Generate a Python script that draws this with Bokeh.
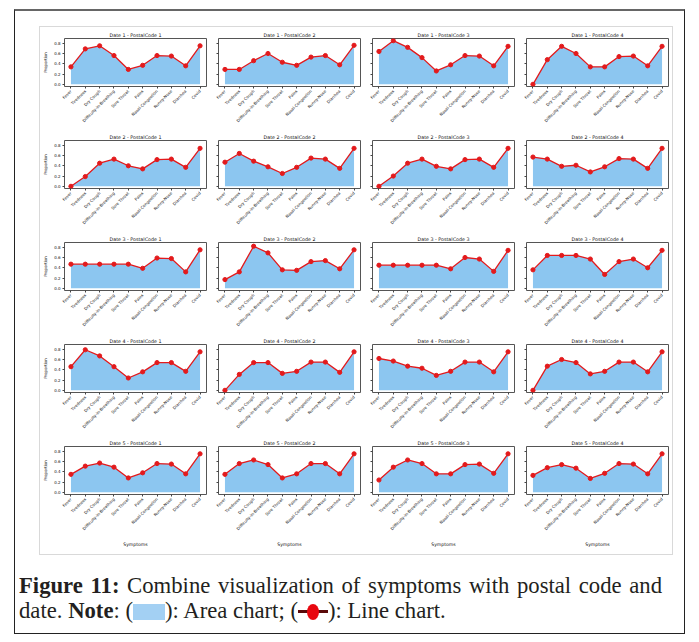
import math
from bokeh.plotting import figure
from bokeh.models import (FixedTicker, CustomJSTickFormatter, PrintfTickFormatter,
                          Div, Range1d, ColumnDataSource)
from bokeh.layouts import column, row
from bokeh.embed import file_html
from bokeh.resources import INLINE

# ---------------- data ----------------
symptoms = ["Fever", "Tiredness", "Dry Cough", "Difficulty-in-Breathing", "Sore Throat",
            "Pains", "Nasal-Congestion", "Runny-Nose", "Diarrhea", "Covid"]
dates = ["Date 1", "Date 2", "Date 3", "Date 4", "Date 5"]
postal_codes = ["PostalCode 1", "PostalCode 2", "PostalCode 3", "PostalCode 4"]
y_ticks = [0.0, 0.2, 0.4, 0.6, 0.8]

d1_pc1 = [0.34, 0.69, 0.75, 0.56, 0.29, 0.37, 0.56, 0.55, 0.36, 0.75]
d1_pc2 = [0.29, 0.29, 0.46, 0.60, 0.43, 0.37, 0.53, 0.56, 0.38, 0.76]
d1_pc3 = [0.64, 0.85, 0.72, 0.52, 0.26, 0.38, 0.56, 0.55, 0.36, 0.74]
d1_pc4 = [0.00, 0.48, 0.74, 0.60, 0.34, 0.34, 0.54, 0.55, 0.36, 0.74]
d2_pc1 = [0.00, 0.19, 0.45, 0.53, 0.40, 0.34, 0.52, 0.53, 0.37, 0.74]
d2_pc2 = [0.47, 0.64, 0.49, 0.38, 0.25, 0.37, 0.55, 0.53, 0.35, 0.74]
d2_pc3 = [0.00, 0.20, 0.45, 0.53, 0.39, 0.34, 0.52, 0.53, 0.37, 0.74]
d2_pc4 = [0.57, 0.53, 0.39, 0.41, 0.28, 0.38, 0.54, 0.53, 0.35, 0.74]
d3_pc1 = [0.47, 0.47, 0.47, 0.47, 0.47, 0.39, 0.59, 0.58, 0.32, 0.75]
d3_pc2 = [0.17, 0.32, 0.82, 0.69, 0.36, 0.35, 0.52, 0.54, 0.38, 0.75]
d3_pc3 = [0.45, 0.45, 0.45, 0.45, 0.45, 0.38, 0.60, 0.57, 0.33, 0.74]
d3_pc4 = [0.36, 0.64, 0.64, 0.64, 0.57, 0.27, 0.52, 0.57, 0.40, 0.74]
d4_pc1 = [0.46, 0.79, 0.67, 0.46, 0.24, 0.36, 0.54, 0.54, 0.37, 0.75]
d4_pc2 = [0.00, 0.31, 0.54, 0.54, 0.33, 0.37, 0.55, 0.55, 0.35, 0.75]
d4_pc3 = [0.62, 0.57, 0.47, 0.43, 0.29, 0.37, 0.55, 0.55, 0.36, 0.75]
d4_pc4 = [0.00, 0.47, 0.60, 0.54, 0.32, 0.37, 0.55, 0.55, 0.36, 0.75]
d5_pc1 = [0.35, 0.51, 0.57, 0.49, 0.28, 0.38, 0.56, 0.55, 0.36, 0.75]
d5_pc2 = [0.35, 0.56, 0.63, 0.54, 0.28, 0.36, 0.56, 0.56, 0.36, 0.75]
d5_pc3 = [0.24, 0.49, 0.63, 0.56, 0.36, 0.36, 0.54, 0.55, 0.37, 0.75]
d5_pc4 = [0.33, 0.48, 0.54, 0.47, 0.27, 0.37, 0.56, 0.55, 0.36, 0.75]

series = [
    [d1_pc1, d1_pc2, d1_pc3, d1_pc4],
    [d2_pc1, d2_pc2, d2_pc3, d2_pc4],
    [d3_pc1, d3_pc2, d3_pc3, d3_pc4],
    [d4_pc1, d4_pc2, d4_pc3, d4_pc4],
    [d5_pc1, d5_pc2, d5_pc3, d5_pc4],
]

# ---------------- style ----------------
FONT = "DejaVu Sans"
AREA = "#8cc6f0"
RED = "#e31a1c"
TXT = "#111111"
x_idx = list(range(len(symptoms)))


def make_panel(r, c):
    vals = series[r][c]
    left = 20 if c == 0 else 6
    right = 4 if c == 3 else 6
    bottom = 60 if r == len(dates) - 1 else 43
    p = figure(frame_width=142, frame_height=48,
               min_border_left=left, min_border_right=right,
               min_border_top=11, min_border_bottom=bottom,
               x_range=Range1d(-0.45, 9.45), y_range=Range1d(-0.0425, 0.8925),
               title=f"{dates[r]} - {postal_codes[c]}",
               output_backend="svg", toolbar_location=None)
    p.title.text_font = FONT
    p.title.text_font_size = "4.8px"
    p.title.text_font_style = "normal"
    p.title.text_color = TXT
    p.title.align = "center"
    p.title.standoff = 1
    p.title.offset = 0
    p.grid.visible = False
    p.outline_line_color = "#555555"
    p.outline_line_width = 1
    p.background_fill_color = "white"
    p.border_fill_color = "white"

    src = ColumnDataSource(dict(x=x_idx, y=vals))
    p.varea(x="x", y1=0, y2="y", source=src, fill_color=AREA, fill_alpha=1.0)
    p.line(x="x", y="y", source=src, line_color=RED, line_width=1.3)
    p.scatter(x="x", y="y", source=src, size=4.2, fill_color=RED, line_color=RED)

    xa = p.xaxis[0]
    xa.ticker = FixedTicker(ticks=x_idx)
    xa.major_label_overrides = {i: s for i, s in enumerate(symptoms)}
    xa.major_label_orientation = math.pi / 4
    xa.major_label_text_font = FONT
    xa.major_label_text_font_size = "4px"
    xa.major_label_text_color = TXT
    xa.major_label_standoff = 2
    xa.major_tick_out = 2
    xa.major_tick_in = 0
    xa.minor_tick_out = 0
    xa.minor_tick_in = 0
    xa.axis_line_color = None
    xa.major_tick_line_color = "#444444"
    if r == len(dates) - 1:
        xa.axis_label = "Symptoms"
        xa.axis_label_text_font = FONT
        xa.axis_label_text_font_size = "4.6px"
        xa.axis_label_text_font_style = "normal"
        xa.axis_label_text_color = TXT
        xa.axis_label_standoff = 6

    ya = p.yaxis[0]
    ya.ticker = FixedTicker(ticks=y_ticks)
    ya.major_tick_out = 2
    ya.major_tick_in = 0
    ya.minor_tick_out = 0
    ya.minor_tick_in = 0
    ya.axis_line_color = None
    ya.major_tick_line_color = "#444444"
    ya.major_label_standoff = 2
    ya.major_label_text_font = FONT
    ya.major_label_text_font_size = "4px"
    ya.major_label_text_color = TXT
    if c == 0:
        ya.formatter = PrintfTickFormatter(format="%.1f")
        ya.axis_label = "Proportion"
        ya.axis_label_text_font = FONT
        ya.axis_label_text_font_size = "4px"
        ya.axis_label_text_font_style = "normal"
        ya.axis_label_text_color = TXT
        ya.axis_label_standoff = 3
    else:
        ya.formatter = CustomJSTickFormatter(code="return ''")
    return p


rows = []
for r in range(len(dates)):
    rows.append(row(*[make_panel(r, c) for c in range(len(postal_codes))], spacing=0))

grid = column(*rows, spacing=0, margin=(15, 0, 0, 24),
              styles={"border": "1px solid #d9d9d9", "background": "white"})

cap_html = (
    '<div style="font-family:\'Liberation Serif\',serif;font-size:22.7px;line-height:25px;'
    'color:#231f20;white-space:nowrap;width:643px">'
    '<div style="text-align:justify;text-align-last:justify;white-space:normal">'
    '<b>Figure 11:</b> Combine visualization of symptoms with postal code and</div>'
    '<div>date. <b>Note</b>: (<span style="display:inline-block;width:32px;height:16px;'
    'background:#a3d0f3;vertical-align:-2px"></span>): Area chart; ('
    '<span style="display:inline-block;position:relative;width:30px;height:16px;vertical-align:-2px">'
    '<span style="position:absolute;left:0;right:0;top:6px;height:3px;background:#5a0a0a"></span>'
    '<span style="position:absolute;left:9px;top:0;width:12px;height:16px;border-radius:50%;'
    'background:#e8070f"></span></span>): Line chart.</div></div>'
)
caption = Div(text=cap_html, width=665, height=60, margin=(18, 0, 0, 4))

outer = column(grid, caption, spacing=0, margin=(9, 0, 0, 14),
               styles={"border": "1px solid #222222", "border-top": "2px solid #666666",
                       "background": "white"})

open("out.html", "w").write(file_html(outer, INLINE))
